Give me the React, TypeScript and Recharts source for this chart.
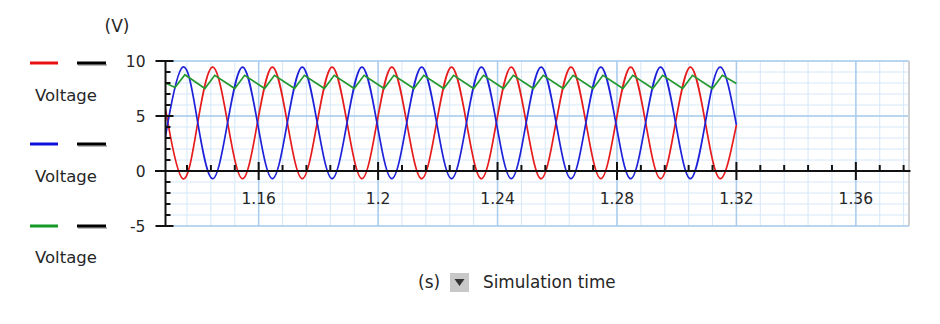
import React from 'react';
import { LineChart, Line, XAxis, YAxis, CartesianGrid, ReferenceLine } from 'recharts';

// axis ranges
const X_MIN = 1.1288;
const X_MAX = 1.3778;
const Y_MIN = -5;
const Y_MAX = 10;

const xTicks = [
  1.136, 1.144, 1.152, 1.16, 1.168, 1.176, 1.184, 1.192, 1.2, 1.208, 1.216, 1.224, 1.232, 1.24, 1.248, 1.256,
  1.264, 1.272, 1.28, 1.288, 1.296, 1.304, 1.312, 1.32, 1.328, 1.336, 1.344, 1.352, 1.36, 1.368, 1.376,
];
const xMajor = [1.16, 1.2, 1.24, 1.28, 1.32, 1.36];
const yTicks = [-5, -4, -3, -2, -1, 0, 1, 2, 3, 4, 5, 6, 7, 8, 9, 10];
const yMajor = [-5, 0, 5, 10];

// red / blue voltages, sampled at peaks, troughs and crossings
const rbTime = [
  1.1288, 1.1296, 1.1346, 1.1396, 1.1446, 1.1496, 1.1546, 1.1596, 1.1646, 1.1696, 1.1746, 1.1796, 1.1846,
  1.1896, 1.1946, 1.1996, 1.2046, 1.2096, 1.2146, 1.2196, 1.2246, 1.2296, 1.2346, 1.2396, 1.2446, 1.2496,
  1.2546, 1.2596, 1.2646, 1.2696, 1.2746, 1.2796, 1.2846, 1.2896, 1.2946, 1.2996, 1.3046, 1.3096, 1.3146, 1.32,
];
const redVoltage = [
  5.65, 4.4, -0.7, 4.4, 9.45, 4.4, -0.7, 4.4, 9.45, 4.4, -0.7, 4.4, 9.45, 4.4, -0.7, 4.4, 9.45, 4.4, -0.7, 4.4,
  9.45, 4.4, -0.7, 4.4, 9.45, 4.4, -0.7, 4.4, 9.45, 4.4, -0.7, 4.4, 9.45, 4.4, -0.7, 4.4, 9.45, 4.4, -0.7, 4.2,
];
const blueVoltage = [
  3.1, 4.4, 9.45, 4.4, -0.7, 4.4, 9.45, 4.4, -0.7, 4.4, 9.45, 4.4, -0.7, 4.4, 9.45, 4.4, -0.7, 4.4, 9.45, 4.4,
  -0.7, 4.4, 9.45, 4.4, -0.7, 4.4, 9.45, 4.4, -0.7, 4.4, 9.45, 4.4, -0.7, 4.4, 9.45, 4.4, -0.7, 4.4, 9.45, 4.2,
];

// green voltage: ripple peaks and troughs
const greenTime = [
  1.1288, 1.132, 1.1353, 1.142, 1.1453, 1.152, 1.1553, 1.162, 1.1653, 1.172, 1.1753, 1.182, 1.1853, 1.192,
  1.1953, 1.202, 1.2053, 1.212, 1.2153, 1.222, 1.2253, 1.232, 1.2353, 1.242, 1.2453, 1.252, 1.2553, 1.262,
  1.2653, 1.272, 1.2753, 1.282, 1.2853, 1.292, 1.2953, 1.302, 1.3053, 1.312, 1.3153, 1.32,
];
const greenVoltage = [
  8.0, 7.6, 8.75, 7.5, 8.7, 7.5, 8.7, 7.5, 8.7, 7.5, 8.7, 7.5, 8.7, 7.5, 8.7, 7.5, 8.7, 7.5, 8.7, 7.5,
  8.7, 7.5, 8.7, 7.5, 8.7, 7.5, 8.7, 7.5, 8.7, 7.5, 8.7, 7.5, 8.7, 7.5, 8.7, 7.5, 8.7, 7.5, 8.7, 7.95,
];

const redData = rbTime.map((t, i) => ({ t, v: redVoltage[i] }));
const blueData = rbTime.map((t, i) => ({ t, v: blueVoltage[i] }));
const greenData = greenTime.map((t, i) => ({ t, v: greenVoltage[i] }));

const W = 940;
const H = 324;
const MARGIN = { top: 61, right: 31, bottom: 68, left: 5.5 };
const Y_AXIS_W = 160;
const X_AXIS_H = 30;
const PLOT_H = H - MARGIN.top - MARGIN.bottom - X_AXIS_H;
const ZERO_DY = (PLOT_H * (0 - Y_MIN)) / (Y_MAX - Y_MIN);

const FONT = '"DejaVu Sans", Verdana, sans-serif';
const TEXT = '#262626';
const AXIS = '#111';

const isMajorX = (v: number) => xMajor.some((m) => Math.abs(m - v) < 1e-6);

function XTick(props: any) {
  const { x, y, payload } = props;
  const y0 = y - ZERO_DY; // ticks sit on the zero line
  if (isMajorX(payload.value)) {
    return (
      <g>
        <line x1={x} x2={x} y1={y0 - 9} y2={y0 + 9} stroke={AXIS} strokeWidth={2} />
        <text x={x} y={y0 + 33} textAnchor="middle" fontSize={15.5} fontFamily={FONT} fill={TEXT}>
          {String(payload.value)}
        </text>
      </g>
    );
  }
  return <line x1={x} x2={x} y1={y0 - 6} y2={y0} stroke={AXIS} strokeWidth={2} />;
}

function YTick(props: any) {
  const { x, y, payload } = props;
  if (yMajor.includes(payload.value)) {
    return (
      <g>
        <line x1={x - 10} x2={x + 8} y1={y} y2={y} stroke={AXIS} strokeWidth={2} />
        <text x={x - 20} y={y + 5.5} textAnchor="end" fontSize={15.5} fontFamily={FONT} fill={TEXT}>
          {String(payload.value)}
        </text>
      </g>
    );
  }
  return <line x1={x} x2={x + 5} y1={y} y2={y} stroke={AXIS} strokeWidth={2} />;
}

const legendItems = [
  { color: '#e81010', dashY: 63, textY: 100.7 },
  { color: '#1010dd', dashY: 144, textY: 182 },
  { color: '#139a26', dashY: 226, textY: 262.7 },
];

export default function App() {
  return (
    <div style={{ position: 'absolute', left: 0, top: 0, width: W, height: H, background: '#fff', fontFamily: FONT }}>
      <LineChart width={W} height={H} margin={MARGIN}>
        <CartesianGrid horizontalValues={yTicks} verticalValues={xTicks} stroke="#d6e7f8" strokeWidth={1} />
        <CartesianGrid horizontalValues={yMajor} verticalValues={xMajor} stroke="#a9ccee" strokeWidth={1.5} />
        <XAxis
          dataKey="t"
          type="number"
          domain={[X_MIN, X_MAX]}
          allowDataOverflow
          ticks={xTicks}
          interval={0}
          height={X_AXIS_H}
          axisLine={false}
          tickLine={false}
          tickSize={0}
          tickMargin={0}
          tick={<XTick />}
        />
        <YAxis
          type="number"
          domain={[Y_MIN, Y_MAX]}
          ticks={yTicks}
          interval={0}
          width={Y_AXIS_W}
          axisLine={{ stroke: AXIS, strokeWidth: 2 }}
          tickLine={false}
          tickSize={0}
          tickMargin={0}
          tick={<YTick />}
        />
        <ReferenceLine x={X_MAX} stroke="#cfcfcf" strokeWidth={2} />
        <Line data={redData} dataKey="v" type="natural" stroke="#e61b1b" strokeWidth={1.7} dot={false} isAnimationActive={false} />
        <Line data={blueData} dataKey="v" type="natural" stroke="#1d22d8" strokeWidth={1.7} dot={false} isAnimationActive={false} />
        <Line data={greenData} dataKey="v" type="linear" stroke="#24992f" strokeWidth={1.7} dot={false} isAnimationActive={false} />
        <ReferenceLine
          segment={[{ x: X_MIN - 0.0035, y: 0 }, { x: X_MAX + 0.0005, y: 0 }]}
          ifOverflow="visible"
          stroke={AXIS}
          strokeWidth={2}
        />
      </LineChart>
      <svg width={W} height={H} style={{ position: 'absolute', left: 0, top: 0, pointerEvents: 'none' }}>
        <text x={117} y={32} textAnchor="middle" fontSize={17} fontFamily={FONT} fill={TEXT}>(V)</text>
        {legendItems.map((it, i) => (
          <g key={i}>
            <line x1={30} x2={58} y1={it.dashY} y2={it.dashY} stroke={it.color} strokeWidth={3} />
            <line x1={78} x2={107} y1={it.dashY + 2} y2={it.dashY + 2} stroke="#bbb" strokeWidth={2} />
            <line x1={77} x2={106} y1={it.dashY} y2={it.dashY} stroke="#000" strokeWidth={3} />
            <text x={35} y={it.textY} fontSize={16.5} fontFamily={FONT} fill={TEXT}>Voltage</text>
          </g>
        ))}
        <text x={418} y={288} fontSize={17} fontFamily={FONT} fill={TEXT}>(s)</text>
        <rect x={450} y={273} width={19} height={19} fill="#c8c8c8" />
        <path d="M454.5 279 L464.5 279 L459.5 286 Z" fill="#333" />
        <text x={483} y={288} fontSize={16.8} fontFamily={FONT} fill={TEXT}>Simulation time</text>
      </svg>
    </div>
  );
}
